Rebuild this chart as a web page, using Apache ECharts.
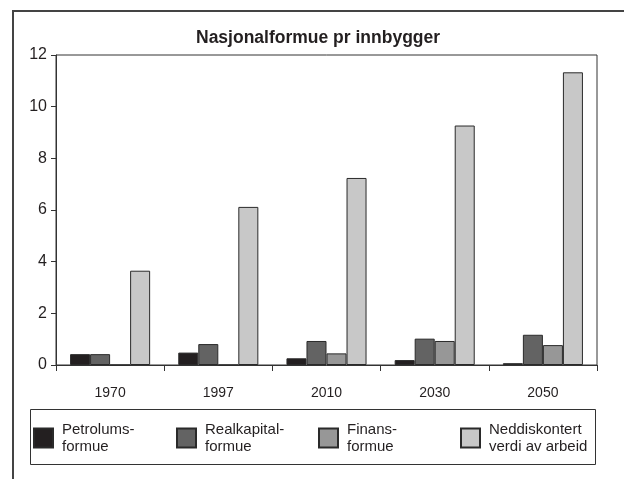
<!DOCTYPE html>
<html>
<head>
<meta charset="utf-8">
<script src="https://cdn.jsdelivr.net/npm/echarts@6/dist/echarts.min.js"></script>
<style>
html, body { margin: 0; padding: 0; background: #fff; }
#main { width: 624px; height: 479px; }
</style>
</head>
<body>
<div id="main"></div>
<script>
var years = ['1970', '1997', '2010', '2030', '2050'];
var petroleum = [0.42, 0.48, 0.26, 0.19, 0.07];
var realkapital = [0.42, 0.81, 0.93, 1.02, 1.17];
var finans = [0, 0, 0.45, 0.93, 0.77];
var neddiskontert = [3.65, 6.12, 7.24, 9.27, 11.33];
var yTicks = [0, 2, 4, 6, 8, 10, 12];

var names = ['Petrolums-\nformue', 'Realkapital-\nformue', 'Finans-\nformue', 'Neddiskontert\nverdi av arbeid'];
var colors = ['#231f20', '#636363', '#979797', '#c8c8c8'];
var values = [petroleum, realkapital, finans, neddiskontert];
var legendX = [33, 176, 318, 460];

var myChart = echarts.init(document.getElementById('main'));

var series = [];
var legends = [];
for (var i = 0; i < names.length; i++) {
    series.push({
        name: names[i],
        type: 'bar',
        data: values[i],
        barGap: '0%',
        barCategoryGap: '26%',
        itemStyle: {
            color: colors[i],
            borderColor: '#2a2a2a',
            borderWidth: 1
        }
    });
    legends.push({
        data: [names[i]],
        left: legendX[i],
        top: 420,
        itemWidth: 19,
        itemHeight: 19,
        icon: 'rect',
        padding: 0,
        textStyle: {
            fontFamily: 'Liberation Sans',
            fontSize: 15,
            color: '#231f20',
            lineHeight: 17,
            padding: [2, 0, 0, 4]
        }
    });
}

var option = {
    backgroundColor: '#fff',
    animation: false,
    title: {
        text: 'Nasjonalformue pr innbygger',
        left: 196,
        top: 29,
        padding: 0,
        textStyle: {
            fontFamily: 'Liberation Sans',
            fontWeight: 'bold',
            fontSize: 17.5,
            color: '#231f20'
        }
    },
    legend: legends,
    grid: {
        left: 56,
        top: 55,
        right: 27,
        bottom: 114,
        show: true,
        borderColor: '#333',
        borderWidth: 1
    },
    xAxis: {
        type: 'category',
        data: years,
        boundaryGap: true,
        axisLine: { lineStyle: { color: '#333', width: 1 } },
        axisTick: { show: true, interval: 0, length: 6, lineStyle: { color: '#333' } },
        axisLabel: {
            margin: 21,
            fontFamily: 'Liberation Sans',
            fontSize: 14,
            color: '#231f20'
        }
    },
    yAxis: {
        type: 'value',
        min: yTicks[0],
        max: yTicks[yTicks.length - 1],
        interval: 2,
        axisLine: { show: true, lineStyle: { color: '#333', width: 1 } },
        axisTick: { show: true, length: 5, lineStyle: { color: '#333' } },
        splitLine: { show: false },
        axisLabel: {
            margin: 9,
            fontFamily: 'Liberation Sans',
            fontSize: 16,
            color: '#231f20'
        }
    },
    graphic: [
        {
            type: 'rect',
            shape: { x: 13, y: 11, width: 640, height: 500 },
            style: { fill: null, stroke: '#444', lineWidth: 2 },
            silent: true,
            z: -1
        },
        {
            type: 'rect',
            shape: { x: 30.5, y: 409.5, width: 565, height: 55 },
            style: { fill: null, stroke: '#333', lineWidth: 1 },
            silent: true
        }
    ],
    series: series
};

myChart.setOption(option);
</script>
</body>
</html>
